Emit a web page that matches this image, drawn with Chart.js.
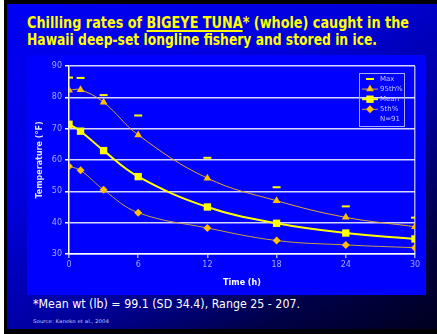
<!DOCTYPE html>
<html>
<head>
<meta charset="utf-8">
<script src="https://cdn.jsdelivr.net/npm/chart.js@4.4.0/dist/chart.umd.min.js"></script>
<style>
  html, body { margin: 0; padding: 0; width: 437px; height: 334px; overflow: hidden; background: #fff; }
  #frame { position: absolute; left: 4px; top: 0; width: 433px; height: 334px; background: #000; }
  #slide { position: absolute; left: 7px; top: 4px; width: 430px; height: 325px;
           background: linear-gradient(150deg, #0000f6 0%, #0000dc 35%, #00009a 62%, #000048 82%, #000020 100%); }
  .line { position: absolute; white-space: nowrap; transform-origin: 0 0; }
  #t1, #t2 { left: 27px; color: #ffff00; font: bold 15px "Comic Sans MS", "DejaVu Sans", sans-serif; }
  #t1 { top: 14px; }
  #t2 { top: 31px; }
  #t1 u { text-decoration-thickness: 2px; text-underline-offset: 2px; }
  #box { position: absolute; left: 27px; top: 55px; width: 399px; height: 240px; background: #0000ff; }
  #note { left: 33px; top: 296px; color: #fff; font: 12.5px "Comic Sans MS", "DejaVu Sans", sans-serif; }
  #src { left: 33px; top: 318px; color: #c8c8ff; font: 5px "DejaVu Sans", sans-serif; }
</style>
</head>
<body>
<div id="frame"></div>
<div id="slide"></div>
<div class="line" id="t1">Chilling rates of <u>BIGEYE TUNA</u>* (whole) caught in the</div>
<div class="line" id="t2">Hawaii deep-set longline fishery and stored in ice.</div>
<div id="box"><canvas id="chill"></canvas></div>
<div class="line" id="note">*Mean wt (lb) = 99.1 (SD 34.4), Range 25 - 207.</div>
<div class="line" id="src">Source: Kaneko et al., 2004</div>

<script>
// Dati (temperatura in °F)
const hours = [0, 1, 3, 6, 12, 18, 24, 30];
const maxTemp = [86.3, 86.2, 80.7, 74.2, 60.7, 51.3, 45.2, 41.6];
const p95Temp = [82.3, 82.4, 78.4, 68.0, 54.2, 47.0, 41.7, 38.7];
const meanTemp = [71.4, 69.2, 63.0, 54.7, 45.0, 39.8, 36.7, 34.8];
const p5Temp = [58.0, 56.7, 50.5, 43.2, 38.3, 34.3, 32.9, 32.0];
const xTicks = [0, 6, 12, 18, 24, 30];
const yTicks = [30, 40, 50, 60, 70, 80, 90];
const sampleNote = 'N=91';

const lavender = '#a8a8ff';
const toPoints = vals => hours.map((h, i) => ({ x: h, y: vals[i] }));

// adatta la larghezza delle righe di testo
function fitWidth(id, target) {
    const el = document.getElementById(id);
    const w = el.getBoundingClientRect().width;
    el.style.transform = `scaleX(${target / w})`;
}
fitWidth('t1', 382);
fitWidth('t2', 350);
fitWidth('note', 267);
fitWidth('src', 76);

// Legenda disegnata dentro l'area del grafico
const boxLegend = {
    id: 'boxLegend',
    afterDraw(chart) {
        const { ctx, chartArea } = chart;
        const x0 = Math.round(chartArea.right) - 56;
        const y0 = Math.round(chartArea.top) + 7;
        ctx.save();
        ctx.strokeStyle = lavender;
        ctx.lineWidth = 1;
        ctx.strokeRect(x0 + 0.5, y0 + 0.5, 45, 53);
        ctx.font = '7px "DejaVu Sans", sans-serif';
        ctx.textBaseline = 'middle';
        chart.data.datasets.forEach((ds, i) => {
            const cy = y0 + 6 + i * 10.1;
            const cx = x0 + 11;
            if (ds.showLine) {
                ctx.strokeStyle = ds.borderColor;
                ctx.lineWidth = ds.borderWidth;
                ctx.beginPath();
                ctx.moveTo(cx - 8, cy);
                ctx.lineTo(cx + 8, cy);
                ctx.stroke();
            }
            ctx.fillStyle = ds.pointBackgroundColor;
            ctx.strokeStyle = ds.pointBorderColor;
            ctx.lineWidth = ds.pointBorderWidth;
            Chart.helpers.drawPoint(ctx, { pointStyle: ds.pointStyle, radius: ds.pointRadius, borderWidth: ds.pointBorderWidth, rotation: 0 }, cx, cy);
            ctx.fillStyle = '#c8c8ff';
            ctx.fillText(ds.label, x0 + 21, cy);
        });
        ctx.fillStyle = '#c8c8ff';
        ctx.fillText(sampleNote, x0 + 21, y0 + 6 + 4 * 10.1);
        ctx.restore();
    }
};

const ctx = document.getElementById('chill').getContext('2d');
new Chart(ctx, {
    type: 'scatter',
    data: {
        datasets: [{
            label: 'Max',
            data: toPoints(maxTemp),
            showLine: false,
            pointStyle: 'line',
            pointRadius: 4,
            pointBorderWidth: 2,
            pointBackgroundColor: '#ffff00',
            pointBorderColor: '#ffff00'
        }, {
            label: '95th%',
            data: toPoints(p95Temp),
            showLine: true,
            tension: 0.4,
            borderColor: '#e0a830',
            borderWidth: 1,
            pointStyle: 'triangle',
            pointRadius: 4.5,
            pointBorderWidth: 0,
            pointBackgroundColor: '#ffc000',
            pointBorderColor: '#ffc000'
        }, {
            label: 'Mean',
            data: toPoints(meanTemp),
            showLine: true,
            tension: 0.4,
            borderColor: '#ffff00',
            borderWidth: 2,
            pointStyle: 'rect',
            pointRadius: 5.2,
            pointBorderWidth: 0,
            pointBackgroundColor: '#ffff00',
            pointBorderColor: '#ffff00'
        }, {
            label: '5th%',
            data: toPoints(p5Temp),
            showLine: true,
            tension: 0.4,
            borderColor: '#c8a040',
            borderWidth: 1,
            pointStyle: 'rectRot',
            pointRadius: 4,
            pointBorderWidth: 0,
            pointBackgroundColor: '#ffc000',
            pointBorderColor: '#ffc000'
        }]
    },
    options: {
        responsive: true,
        maintainAspectRatio: false,
        animation: false,
        layout: { padding: { top: 11, right: 11, left: 0, bottom: 0 } },
        plugins: { legend: { display: false }, tooltip: { enabled: false } },
        scales: {
            x: {
                type: 'linear',
                min: 0,
                max: 30,
                afterBuildTicks: s => { s.ticks = xTicks.map(v => ({ value: v })); },
                afterFit: s => { s.height = 41; s.paddingLeft = 0; s.paddingRight = 0; },
                border: { color: '#ffffff', width: 1.5 },
                grid: {
                    color: c => (c.tick && c.tick.value === 30 ? lavender : 'transparent'),
                    tickColor: lavender,
                    tickLength: 4,
                    lineWidth: 1.5
                },
                ticks: { color: lavender, font: { size: 8, family: '"DejaVu Sans", sans-serif' }, padding: 2, maxRotation: 0 },
                title: {
                    display: true,
                    text: 'Time (h)',
                    color: '#ffffff',
                    font: { size: 8, weight: 'bold', family: '"DejaVu Sans", sans-serif' },
                    padding: { top: 4, bottom: 7 }
                }
            },
            y: {
                min: 30,
                max: 90,
                afterBuildTicks: s => { s.ticks = yTicks.map(v => ({ value: v })); },
                afterFit: s => { s.width = 42; s.paddingTop = 0; s.paddingBottom = 0; },
                border: { color: '#ffffff', width: 1.5 },
                grid: {
                    color: '#d8d8ff',
                    tickColor: '#ffffff',
                    tickLength: 4,
                    lineWidth: 1.5
                },
                ticks: { color: lavender, font: { size: 8, family: '"DejaVu Sans", sans-serif' }, padding: 3 },
                title: {
                    display: true,
                    text: 'Temperature (°F)',
                    color: '#e0e0ff',
                    font: { size: 8, weight: 'bold', family: '"DejaVu Sans", sans-serif' },
                    padding: { top: 8, bottom: 0 }
                }
            }
        }
    },
    plugins: [boxLegend]
});
</script>
</body>
</html>
